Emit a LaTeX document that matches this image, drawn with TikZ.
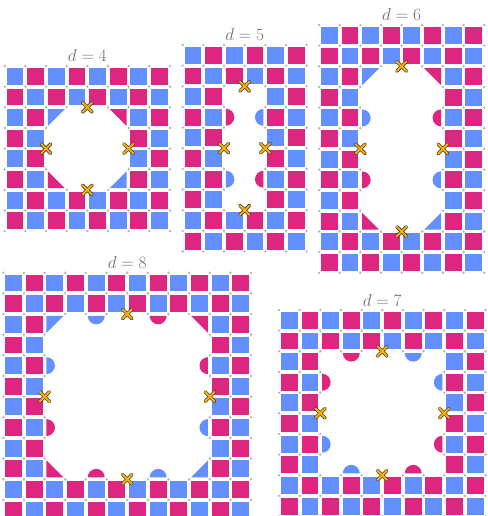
\documentclass[tikz,border=0pt]{standalone}
\definecolor{azul}{HTML}{648FFF}
\definecolor{rosa}{HTML}{DC267F}
\definecolor{ambar}{HTML}{FFB000}
\definecolor{gris}{HTML}{6E6E6E}
\definecolor{punto}{HTML}{B4B4B4}
\def\hueco{0.09}
\def\radio{0.41}
\tikzset{
  etiqueta/.style={text=gris, font=\fontsize{17}{20}\selectfont, anchor=base, yshift=4pt},
  borde/.style={line width=3.4pt, draw=black!75, line cap=round},
  aspa/.style={line width=1.9pt, draw=ambar, line cap=round},
}
% color de la casilla segun paridad
\newcommand{\tonode}[2]{\pgfmathtruncatemacro{\paridad}{mod(#1+#2,2)}%
  \ifnum\paridad=0 \def\tono{azul}\else\def\tono{rosa}\fi}
% tablero con hueco: ultima col, ultima fila, x0, x1, y0, y1
\newcommand{\tablero}[6]{%
  \foreach \i in {0,...,#1}{
    \foreach \j in {0,...,#2}{
      \pgfmathtruncatemacro{\dentro}{(\i>#3-1)*(\i<#4)*(\j>#5-1)*(\j<#6)}
      \ifnum\dentro=0
        \tonode{\i}{\j}
        \fill[fill=\tono] (\i+\hueco,\j+\hueco) rectangle (\i+1-\hueco,\j+1-\hueco);
      \fi
    }
  }
  % puntos de la malla
  \pgfmathtruncatemacro{\ultx}{#1+1}
  \pgfmathtruncatemacro{\ulty}{#2+1}
  \foreach \i in {0,...,\ultx}{
    \foreach \j in {0,...,\ulty}{
      \pgfmathtruncatemacro{\dentro}{(\i>#3)*(\i<#4)*(\j>#5)*(\j<#6)}
      \ifnum\dentro=0 \fill[punto] (\i,\j) circle (1.3pt);\fi
    }
  }
}
% medias casillas (triangulos)
\newcommand{\trisupizq}[2]{\tonode{#1}{#2}\fill[fill=\tono] (#1+\hueco,#2+\hueco) -- (#1+1-\hueco,#2+\hueco) -- (#1+\hueco,#2+1-\hueco) -- cycle;}
\newcommand{\trisupder}[2]{\tonode{#1}{#2}\fill[fill=\tono] (#1+\hueco,#2+\hueco) -- (#1+1-\hueco,#2+\hueco) -- (#1+1-\hueco,#2+1-\hueco) -- cycle;}
\newcommand{\triinfizq}[2]{\tonode{#1}{#2}\fill[fill=\tono] (#1+\hueco,#2+\hueco) -- (#1+\hueco,#2+1-\hueco) -- (#1+1-\hueco,#2+1-\hueco) -- cycle;}
\newcommand{\triinfder}[2]{\tonode{#1}{#2}\fill[fill=\tono] (#1+1-\hueco,#2+\hueco) -- (#1+1-\hueco,#2+1-\hueco) -- (#1+\hueco,#2+1-\hueco) -- cycle;}
% semicirculos
\newcommand{\semiizq}[2]{\tonode{#1}{#2}\fill[fill=\tono] (#1+\hueco,#2+\hueco) arc[start angle=-90, end angle=90, radius=\radio] -- cycle;}
\newcommand{\semider}[2]{\tonode{#1}{#2}\fill[fill=\tono] (#1+1-\hueco,#2+\hueco) arc[start angle=270, end angle=90, radius=\radio] -- cycle;}
\newcommand{\semisup}[2]{\tonode{#1}{#2}\fill[fill=\tono] (#1+\hueco,#2+\hueco) arc[start angle=180, end angle=0, radius=\radio] -- cycle;}
\newcommand{\semiinf}[2]{\tonode{#1}{#2}\fill[fill=\tono] (#1+\hueco,#2+1-\hueco) arc[start angle=180, end angle=360, radius=\radio] -- cycle;}
% marcas
\newcommand{\cruz}[2]{\foreach \e in {borde,aspa}{\draw[\e] (#1-0.23,#2-0.23) -- (#1+0.23,#2+0.23) (#1-0.23,#2+0.23) -- (#1+0.23,#2-0.23);}}
\begin{document}
\begin{tikzpicture}[x=1pt, y=-1pt]
  \useasboundingbox (0,0) rectangle (487,516);
  \clip (0,0) rectangle (487,516);

  % d = 4
  \begin{scope}[shift={(4.7,66)}, x=20.65pt, y=-20.65pt]
    \tablero{7}{7}{2}{6}{2}{6}
    \trisupizq{2}{2} \trisupder{5}{2} \triinfizq{2}{5} \triinfder{5}{5}
    \cruz{4}{2} \cruz{2}{4} \cruz{6}{4} \cruz{4}{6}
    \node[etiqueta] (d4) at (4,0) {$d = 4$};
  \end{scope}

  % d = 5
  \begin{scope}[shift={(182.7,45)}, x=20.65pt, y=-20.65pt]
    \tablero{5}{9}{2}{4}{2}{8}
    \semiizq{2}{3} \semider{3}{3} \semiizq{2}{6} \semider{3}{6}
    \cruz{3}{2} \cruz{2}{5} \cruz{4}{5} \cruz{3}{8}
    \node[etiqueta] (d5) at (3,0) {$d = 5$};
  \end{scope}

  % d = 6
  \begin{scope}[shift={(319,25)}, x=20.65pt, y=-20.65pt]
    \tablero{7}{11}{2}{6}{2}{10}
    \trisupizq{2}{2} \trisupder{5}{2} \triinfizq{2}{9} \triinfder{5}{9}
    \semiizq{2}{4} \semider{5}{4} \semiizq{2}{7} \semider{5}{7}
    \cruz{4}{2} \cruz{2}{6} \cruz{6}{6} \cruz{4}{10}
    \node[etiqueta] (d6) at (4,0) {$d = 6$};
  \end{scope}

  % d = 8
  \begin{scope}[shift={(3.3,272.7)}, x=20.65pt, y=-20.65pt]
    \tablero{11}{11}{2}{10}{2}{10}
    \trisupizq{2}{2} \trisupder{9}{2} \triinfizq{2}{9} \triinfder{9}{9}
    \semisup{4}{2} \semisup{7}{2} \semiinf{4}{9} \semiinf{7}{9}
    \semiizq{2}{4} \semider{9}{4} \semiizq{2}{7} \semider{9}{7}
    \cruz{6}{2} \cruz{2}{6} \cruz{10}{6} \cruz{6}{10}
    \node[etiqueta] (d8) at (6,0) {$d = 8$};
  \end{scope}

  % d = 7
  \begin{scope}[shift={(279,310)}, x=20.65pt, y=-20.65pt]
    \tablero{9}{9}{2}{8}{2}{8}
    \semisup{3}{2} \semisup{6}{2} \semiinf{3}{7} \semiinf{6}{7}
    \semiizq{2}{3} \semider{7}{3} \semiizq{2}{6} \semider{7}{6}
    \cruz{5}{2} \cruz{2}{5} \cruz{8}{5} \cruz{5}{8}
    \node[etiqueta] (d7) at (5,0) {$d = 7$};
  \end{scope}
\end{tikzpicture}
\end{document}
